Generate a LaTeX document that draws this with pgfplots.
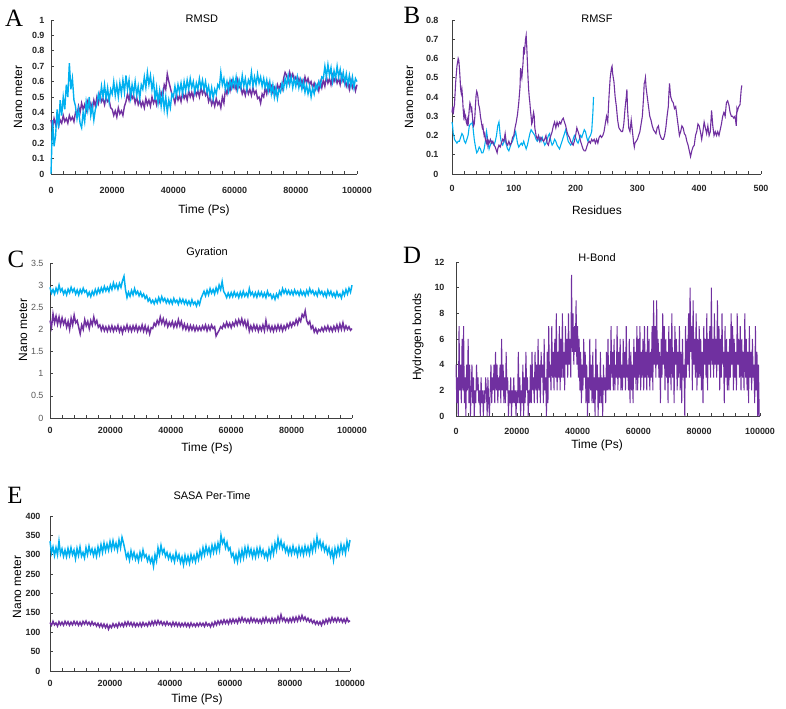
\documentclass[border=0pt]{standalone}
\usepackage{pgfplots}
\pgfplotsset{compat=1.18}
\usepackage{fontspec}
\setmainfont{Liberation Sans}
\newfontfamily\letterfont{Liberation Serif}
\definecolor{cpur}{HTML}{7030A0}
\definecolor{cblu}{HTML}{00B0F0}
\definecolor{axgray}{HTML}{404040}
\pgfplotsset{
 panel/.style={scale only axis, axis lines=left, axis line style={-, axgray, line width=0.8bp},
  enlargelimits=false, tick align=inside, major tick length=3bp, minor tick length=3bp,
  every tick/.style={axgray, line width=0.6bp},
  tick label style={font=\fontsize{9}{10}\selectfont\bfseries, text=black!85},
  /pgf/number format/assume math mode=true, /pgf/number format/1000 sep={}, /pgf/number format/fixed,
  scaled ticks=false,
  title style={font=\fontsize{11}{12}\selectfont, anchor=center},
  xlabel style={font=\fontsize{12}{13}\selectfont, anchor=center},
  ylabel style={font=\fontsize{12}{13}\selectfont, anchor=center},
  clip=false},
 timeax/.style={xmin=0, xmax=100000, xtick={0,20000,40000,60000,80000,100000}, minor x tick num=4},
}
\begin{document}
\begin{tikzpicture}
\useasboundingbox (0,0) rectangle (786bp,709bp);
% ---------------- A RMSD ----------------
\begin{axis}[panel, timeax, at={(51bp,535bp)}, anchor=south west, width=306bp, height=154bp,
 ymin=0, ymax=1, ytick={0,0.1,0.2,0.3,0.4,0.5,0.6,0.7,0.8,0.9,1},
 xticklabel style={yshift=-10bp}, yticklabel style={xshift=-3bp},
 title={RMSD}, title style={at={(axis description cs:0.493,0.968)}},
 xlabel={Time (Ps)}, xlabel style={at={(axis description cs:0.5,-0.234)}},
 ylabel={Nano meter}, ylabel style={at={(axis description cs:-0.108,0.5)}}]
\addplot[cpur, line width=1.4bp] table[row sep=\\, header=false, x expr=\coordindex*500, y index=0] {
0.35\\0.30\\0.36\\0.32\\0.37\\0.31\\0.35\\0.33\\0.38\\0.34\\
0.36\\0.33\\0.38\\0.35\\0.37\\0.34\\0.40\\0.38\\0.44\\0.40\\
0.46\\0.42\\0.45\\0.41\\0.47\\0.43\\0.46\\0.42\\0.48\\0.44\\
0.50\\0.46\\0.52\\0.47\\0.49\\0.45\\0.50\\0.47\\0.48\\0.43\\
0.42\\0.38\\0.41\\0.37\\0.43\\0.39\\0.41\\0.38\\0.44\\0.47\\
0.52\\0.48\\0.54\\0.49\\0.51\\0.46\\0.50\\0.45\\0.48\\0.44\\
0.47\\0.43\\0.49\\0.45\\0.48\\0.44\\0.50\\0.46\\0.49\\0.45\\
0.51\\0.47\\0.53\\0.50\\0.58\\0.55\\0.65\\0.60\\0.56\\0.52\\
0.50\\0.46\\0.52\\0.48\\0.51\\0.47\\0.53\\0.49\\0.52\\0.48\\
0.54\\0.50\\0.53\\0.49\\0.55\\0.51\\0.54\\0.50\\0.56\\0.52\\
0.55\\0.51\\0.53\\0.47\\0.50\\0.45\\0.48\\0.44\\0.49\\0.45\\
0.47\\0.43\\0.50\\0.46\\0.55\\0.52\\0.58\\0.54\\0.60\\0.56\\
0.59\\0.55\\0.61\\0.56\\0.57\\0.52\\0.55\\0.51\\0.56\\0.52\\
0.55\\0.51\\0.56\\0.52\\0.54\\0.49\\0.50\\0.46\\0.52\\0.50\\
0.56\\0.52\\0.58\\0.54\\0.57\\0.53\\0.56\\0.52\\0.58\\0.55\\
0.58\\0.55\\0.62\\0.66\\0.64\\0.60\\0.66\\0.62\\0.65\\0.61\\
0.63\\0.59\\0.62\\0.58\\0.61\\0.57\\0.63\\0.59\\0.62\\0.58\\
0.60\\0.56\\0.59\\0.55\\0.58\\0.54\\0.60\\0.56\\0.61\\0.57\\
0.63\\0.59\\0.62\\0.58\\0.64\\0.60\\0.63\\0.59\\0.62\\0.58\\
0.64\\0.60\\0.62\\0.57\\0.60\\0.55\\0.61\\0.56\\0.59\\0.54\\
0.58\\};
\addplot[cblu, line width=1.4bp] table[row sep=\\, header=false, x expr=\coordindex*500, y index=0] {
0.00\\0.35\\0.18\\0.25\\0.42\\0.30\\0.48\\0.38\\0.50\\0.42\\
0.58\\0.50\\0.72\\0.55\\0.62\\0.48\\0.44\\0.36\\0.42\\0.33\\
0.30\\0.40\\0.34\\0.47\\0.41\\0.50\\0.38\\0.44\\0.35\\0.42\\
0.45\\0.52\\0.48\\0.57\\0.50\\0.58\\0.49\\0.56\\0.47\\0.55\\
0.52\\0.60\\0.51\\0.58\\0.50\\0.59\\0.52\\0.61\\0.53\\0.64\\
0.55\\0.61\\0.50\\0.58\\0.52\\0.60\\0.51\\0.57\\0.49\\0.58\\
0.55\\0.63\\0.56\\0.66\\0.58\\0.64\\0.55\\0.61\\0.48\\0.56\\
0.46\\0.54\\0.44\\0.52\\0.42\\0.50\\0.40\\0.48\\0.43\\0.52\\
0.50\\0.57\\0.51\\0.58\\0.53\\0.59\\0.52\\0.60\\0.54\\0.61\\
0.55\\0.62\\0.56\\0.60\\0.53\\0.59\\0.55\\0.62\\0.56\\0.61\\
0.55\\0.60\\0.53\\0.57\\0.50\\0.56\\0.49\\0.55\\0.52\\0.58\\
0.56\\0.66\\0.58\\0.62\\0.55\\0.60\\0.54\\0.61\\0.56\\0.62\\
0.57\\0.63\\0.55\\0.61\\0.56\\0.64\\0.57\\0.62\\0.55\\0.61\\
0.58\\0.66\\0.57\\0.63\\0.58\\0.65\\0.59\\0.63\\0.57\\0.62\\
0.56\\0.61\\0.54\\0.60\\0.52\\0.58\\0.50\\0.56\\0.49\\0.55\\
0.53\\0.59\\0.55\\0.62\\0.57\\0.64\\0.58\\0.63\\0.56\\0.62\\
0.57\\0.63\\0.56\\0.61\\0.55\\0.60\\0.53\\0.58\\0.52\\0.57\\
0.50\\0.56\\0.52\\0.58\\0.55\\0.60\\0.57\\0.63\\0.62\\0.70\\
0.63\\0.71\\0.64\\0.69\\0.60\\0.67\\0.62\\0.70\\0.63\\0.68\\
0.61\\0.66\\0.59\\0.65\\0.58\\0.64\\0.57\\0.63\\0.56\\0.62\\
0.60\\};
\end{axis}
% ---------------- B RMSF ----------------
\begin{axis}[panel, at={(452bp,535bp)}, anchor=south west, width=309bp, height=154bp,
 xmin=0, xmax=500, xtick={0,100,200,300,400,500}, minor x tick num=4,
 ymin=0, ymax=0.8, ytick={0,0.1,0.2,0.3,0.4,0.5,0.6,0.7,0.8},
 xticklabel style={yshift=-8bp}, yticklabel style={xshift=-10bp},
 title={RMSF}, title style={at={(axis description cs:0.469,0.968)}},
 xlabel={Residues}, xlabel style={at={(axis description cs:0.469,-0.234)}},
 ylabel={Nano meter}, ylabel style={at={(axis description cs:-0.139,0.5)}}]
\addplot[cblu, line width=1.1bp] coordinates {
(0,0.27)(1,0.25)(2,0.21)(3,0.20)(4,0.18)(6,0.17)(8,0.16)(10,0.17)(12,0.17)(14,0.19)(16,0.21)(18,0.20)(20,0.17)(22,0.16)(24,0.18)(26,0.20)(28,0.25)(30,0.26)(32,0.26)(33,0.27)(34,0.24)(36,0.18)(38,0.14)(40,0.11)(42,0.12)(44,0.14)(46,0.13)(48,0.11)(50,0.11)(52,0.13)(54,0.17)(56,0.22)(58,0.17)(60,0.13)(62,0.15)(64,0.17)(66,0.16)(68,0.15)(70,0.17)(72,0.20)(74,0.25)(76,0.27)(78,0.20)(80,0.16)(82,0.15)(84,0.17)(86,0.18)(88,0.15)(90,0.13)(92,0.12)(94,0.14)(96,0.16)(98,0.17)(100,0.19)(102,0.21)(103,0.22)(104,0.20)(106,0.16)(108,0.14)(110,0.15)(112,0.16)(114,0.15)(116,0.17)(118,0.15)(120,0.13)(122,0.15)(124,0.18)(126,0.21)(128,0.23)(130,0.22)(132,0.21)(134,0.20)(136,0.18)(138,0.17)(140,0.18)(142,0.19)(144,0.17)(146,0.19)(148,0.17)(150,0.15)(152,0.16)(154,0.18)(156,0.20)(158,0.21)(160,0.17)(162,0.15)(164,0.16)(166,0.18)(168,0.17)(170,0.15)(172,0.14)(174,0.13)(176,0.15)(178,0.17)(180,0.19)(182,0.21)(184,0.23)(186,0.20)(188,0.17)(190,0.16)(192,0.15)(194,0.16)(196,0.18)(198,0.20)(200,0.19)(202,0.17)(204,0.16)(206,0.18)(208,0.20)(210,0.19)(212,0.21)(214,0.23)(216,0.22)(218,0.19)(220,0.17)(222,0.19)(224,0.20)(226,0.22)(228,0.32)(229,0.40)};
\addplot[cpur, line width=1.1bp] coordinates {
(0,0.32)(1,0.35)(2,0.31)(3,0.34)(4,0.36)(5,0.42)(6,0.48)(7,0.52)(8,0.56)(9,0.58)(10,0.60)(11,0.59)(12,0.55)(13,0.50)(14,0.44)(15,0.42)(16,0.44)(17,0.40)(18,0.34)(19,0.30)(20,0.32)(21,0.29)(22,0.30)(23,0.27)(24,0.26)(25,0.28)(26,0.25)(27,0.30)(28,0.34)(29,0.37)(30,0.36)(31,0.33)(32,0.34)(33,0.30)(34,0.27)(35,0.25)(36,0.26)(37,0.30)(38,0.36)(39,0.41)(40,0.43)(41,0.42)(42,0.40)(43,0.36)(44,0.35)(45,0.33)(46,0.30)(47,0.28)(48,0.26)(49,0.24)(50,0.25)(51,0.22)(52,0.20)(53,0.21)(54,0.18)(55,0.17)(56,0.16)(57,0.18)(58,0.15)(59,0.17)(60,0.16)(62,0.18)(64,0.16)(66,0.17)(68,0.15)(70,0.14)(72,0.12)(73,0.11)(74,0.13)(76,0.15)(78,0.14)(80,0.16)(82,0.18)(84,0.17)(86,0.21)(88,0.16)(90,0.15)(92,0.17)(94,0.15)(96,0.16)(98,0.19)(100,0.20)(102,0.24)(104,0.27)(106,0.31)(108,0.37)(110,0.45)(111,0.55)(112,0.52)(113,0.50)(114,0.54)(115,0.58)(116,0.66)(117,0.62)(118,0.66)(119,0.70)(120,0.72)(121,0.66)(122,0.58)(123,0.50)(124,0.44)(125,0.40)(126,0.37)(127,0.33)(128,0.30)(129,0.26)(130,0.27)(131,0.30)(132,0.32)(133,0.30)(134,0.24)(135,0.22)(136,0.20)(138,0.18)(140,0.20)(142,0.17)(144,0.19)(146,0.18)(148,0.17)(150,0.18)(152,0.20)(154,0.16)(156,0.15)(158,0.18)(160,0.20)(162,0.22)(164,0.25)(166,0.27)(168,0.24)(170,0.27)(172,0.25)(174,0.27)(176,0.26)(178,0.28)(180,0.29)(182,0.27)(184,0.25)(186,0.22)(188,0.20)(190,0.19)(192,0.17)(194,0.16)(196,0.15)(198,0.17)(200,0.20)(202,0.24)(204,0.22)(206,0.20)(208,0.17)(210,0.15)(212,0.13)(214,0.12)(216,0.12)(218,0.14)(220,0.16)(222,0.17)(224,0.16)(226,0.18)(228,0.17)(230,0.18)(232,0.16)(234,0.18)(236,0.16)(238,0.19)(240,0.20)(242,0.19)(244,0.20)(246,0.22)(248,0.26)(250,0.30)(252,0.27)(254,0.40)(256,0.50)(258,0.55)(259,0.56)(260,0.52)(262,0.48)(264,0.40)(266,0.35)(268,0.28)(270,0.24)(272,0.23)(274,0.22)(276,0.22)(278,0.26)(280,0.34)(282,0.40)(283,0.44)(284,0.34)(286,0.24)(288,0.22)(290,0.28)(292,0.22)(294,0.16)(295,0.14)(296,0.16)(298,0.17)(300,0.18)(302,0.20)(304,0.22)(306,0.26)(308,0.30)(310,0.40)(311,0.47)(312,0.48)(313,0.50)(314,0.45)(316,0.40)(318,0.35)(320,0.30)(322,0.28)(324,0.25)(326,0.23)(328,0.22)(330,0.21)(332,0.24)(334,0.25)(336,0.21)(338,0.19)(340,0.18)(342,0.18)(344,0.20)(346,0.24)(348,0.30)(350,0.35)(351,0.42)(352,0.47)(353,0.43)(354,0.40)(356,0.38)(358,0.37)(360,0.34)(362,0.35)(364,0.30)(366,0.25)(368,0.20)(370,0.22)(372,0.25)(374,0.24)(376,0.21)(378,0.20)(380,0.17)(382,0.15)(384,0.12)(386,0.09)(388,0.12)(390,0.14)(392,0.15)(394,0.20)(396,0.22)(398,0.26)(400,0.25)(402,0.22)(404,0.18)(406,0.22)(408,0.27)(410,0.24)(412,0.21)(414,0.25)(416,0.20)(418,0.22)(420,0.33)(422,0.25)(424,0.20)(426,0.22)(428,0.20)(430,0.22)(432,0.20)(434,0.23)(436,0.26)(438,0.30)(440,0.32)(442,0.30)(444,0.37)(446,0.38)(448,0.36)(450,0.32)(452,0.30)(454,0.30)(456,0.29)(458,0.30)(460,0.25)(461,0.34)(462,0.33)(464,0.35)(466,0.36)(468,0.44)(469,0.46)};
\end{axis}
% ---------------- C Gyration ----------------
\begin{axis}[panel, timeax, at={(50bp,291bp)}, anchor=south west, width=302bp, height=155bp,
 ymin=0, ymax=3.5, ytick={0,0.5,1,1.5,2,2.5,3,3.5},
 xticklabel style={yshift=-6bp}, yticklabel style={xshift=-3bp, font=\fontsize{9}{10}\selectfont\mdseries, text=black!65},
 title={Gyration}, title style={at={(axis description cs:0.52,1.026)}},
 xlabel={Time (Ps)}, xlabel style={at={(axis description cs:0.52,-0.194)}},
 ylabel={Nano meter}, ylabel style={at={(axis description cs:-0.089,0.568)}}]
\addplot[cblu, line width=1.5bp] table[row sep=\\, header=false, x expr=\coordindex*500, y index=0] {
2.95\\2.82\\2.90\\2.80\\2.93\\2.84\\3.00\\2.86\\2.92\\2.80\\
2.88\\2.78\\2.91\\2.83\\2.95\\2.85\\2.92\\2.80\\2.89\\2.78\\
2.90\\2.82\\2.93\\2.84\\2.88\\2.76\\2.84\\2.74\\2.86\\2.78\\
2.90\\2.80\\2.92\\2.83\\2.94\\2.85\\2.97\\2.87\\2.95\\2.86\\
3.00\\2.90\\3.05\\2.93\\3.02\\2.91\\3.04\\2.95\\3.10\\3.20\\
2.90\\2.72\\2.84\\2.75\\2.88\\2.78\\2.92\\2.80\\2.86\\2.76\\
2.84\\2.74\\2.80\\2.70\\2.76\\2.64\\2.70\\2.60\\2.66\\2.58\\
2.68\\2.60\\2.72\\2.62\\2.74\\2.64\\2.70\\2.60\\2.68\\2.59\\
2.67\\2.58\\2.70\\2.61\\2.66\\2.57\\2.69\\2.60\\2.68\\2.58\\
2.66\\2.56\\2.64\\2.55\\2.67\\2.57\\2.62\\2.53\\2.64\\2.56\\
2.70\\2.78\\2.86\\2.76\\2.88\\2.78\\2.92\\2.82\\2.90\\2.80\\
2.94\\2.84\\3.00\\2.90\\3.08\\2.86\\2.80\\2.72\\2.82\\2.73\\
2.83\\2.74\\2.85\\2.75\\2.82\\2.72\\2.84\\2.74\\2.86\\2.75\\
2.82\\2.74\\2.92\\2.78\\2.84\\2.74\\2.83\\2.73\\2.85\\2.76\\
2.84\\2.74\\2.82\\2.72\\2.86\\2.76\\2.80\\2.70\\2.78\\2.68\\
2.80\\2.72\\2.86\\2.78\\2.92\\2.82\\2.90\\2.80\\2.88\\2.79\\
2.87\\2.78\\2.89\\2.80\\2.86\\2.77\\2.88\\2.78\\2.85\\2.76\\
2.88\\2.79\\2.92\\2.82\\2.88\\2.78\\2.85\\2.76\\2.90\\2.80\\
2.86\\2.76\\2.84\\2.74\\2.88\\2.78\\2.86\\2.75\\2.82\\2.73\\
2.85\\2.75\\2.80\\2.71\\2.86\\2.77\\2.90\\2.80\\2.93\\2.84\\
3.00\\};
\addplot[cpur, line width=1.5bp] table[row sep=\\, header=false, x expr=\coordindex*500, y index=0] {
2.20\\2.05\\2.35\\2.15\\2.30\\2.12\\2.28\\2.10\\2.26\\2.12\\
2.22\\2.05\\2.18\\2.00\\2.25\\2.10\\2.32\\2.15\\2.20\\2.05\\
1.90\\2.10\\2.00\\2.22\\2.08\\2.18\\2.02\\2.20\\2.10\\2.28\\
2.12\\2.20\\2.05\\2.10\\1.98\\2.08\\1.97\\2.06\\1.96\\2.07\\
1.97\\2.08\\1.96\\2.06\\1.98\\2.09\\1.95\\2.05\\1.92\\2.06\\
1.98\\2.10\\1.97\\2.07\\1.96\\2.08\\1.98\\2.09\\1.96\\2.06\\
1.98\\2.10\\1.96\\2.08\\1.94\\2.05\\1.90\\2.04\\2.02\\2.14\\
2.08\\2.20\\2.12\\2.28\\2.14\\2.24\\2.10\\2.20\\2.06\\2.16\\
2.08\\2.18\\2.05\\2.16\\2.06\\2.22\\2.08\\2.18\\2.02\\2.12\\
2.00\\2.10\\1.98\\2.09\\1.99\\2.08\\1.97\\2.07\\1.98\\2.06\\
1.98\\2.08\\2.00\\2.10\\1.97\\2.08\\1.99\\2.10\\2.02\\2.06\\
1.85\\1.92\\1.98\\2.06\\2.02\\2.12\\2.05\\2.16\\2.06\\2.14\\
2.04\\2.15\\2.08\\2.20\\2.10\\2.22\\2.12\\2.24\\2.10\\2.20\\
2.05\\2.18\\1.96\\2.08\\1.98\\2.10\\1.99\\2.09\\1.96\\2.07\\
1.98\\2.10\\1.97\\2.20\\2.00\\2.09\\1.97\\2.07\\1.96\\2.08\\
1.98\\2.10\\1.99\\2.09\\1.97\\2.08\\2.00\\2.12\\2.04\\2.15\\
2.06\\2.16\\2.10\\2.22\\2.12\\2.25\\2.18\\2.34\\2.28\\2.42\\
2.20\\2.12\\2.18\\2.02\\2.08\\1.94\\2.02\\1.92\\2.00\\1.96\\
2.04\\1.96\\2.06\\1.98\\2.08\\1.97\\2.05\\1.96\\2.07\\1.98\\
2.10\\1.98\\2.12\\2.00\\2.15\\1.99\\2.08\\2.00\\2.06\\1.98\\
2.02\\};
\end{axis}
% ---------------- D H-Bond ----------------
\begin{axis}[panel, timeax, at={(456bp,293bp)}, anchor=south west, width=304bp, height=154bp,
 ymin=0, ymax=12, ytick={0,2,4,6,8,10,12},
 xticklabel style={yshift=-9bp}, yticklabel style={xshift=-8bp},
 title={H-Bond}, title style={at={(axis description cs:0.464,0.987)}},
 xlabel={Time (Ps)}, xlabel style={at={(axis description cs:0.464,-0.188)}},
 ylabel={Hydrogen bonds}, ylabel style={at={(axis description cs:-0.125,0.513)}}]
\addplot[cpur, line width=1bp] table[row sep=\\, header=false, x expr=\coordindex*250, y index=0] {
4\\1\\3\\0\\7\\2\\4\\1\\6\\2\\7\\1\\3\\0\\4\\2\\6\\1\\4\\0\\
2\\4\\1\\3\\0\\2\\1\\4\\2\\3\\1\\2\\0\\3\\1\\2\\0\\2\\1\\3\\
2\\0\\3\\1\\0\\2\\4\\1\\3\\2\\4\\1\\5\\2\\4\\1\\3\\2\\4\\1\\
6\\2\\4\\1\\3\\1\\5\\2\\3\\0\\2\\1\\3\\0\\2\\1\\3\\1\\2\\0\\
2\\1\\5\\1\\3\\0\\2\\1\\4\\0\\3\\1\\5\\2\\3\\0\\2\\1\\4\\1\\
5\\2\\3\\1\\5\\2\\4\\1\\6\\2\\4\\1\\5\\3\\4\\1\\6\\2\\3\\0\\
5\\1\\7\\3\\4\\2\\7\\3\\5\\2\\6\\3\\8\\2\\5\\3\\7\\2\\6\\3\\
8\\3\\5\\2\\7\\4\\6\\3\\8\\4\\6\\3\\11\\5\\8\\4\\7\\5\\9\\4\\
7\\3\\6\\2\\5\\1\\4\\2\\6\\3\\5\\1\\4\\0\\3\\1\\6\\2\\4\\1\\
5\\1\\3\\0\\6\\2\\4\\0\\3\\1\\5\\1\\3\\0\\4\\2\\3\\1\\5\\2\\
6\\2\\4\\2\\7\\3\\5\\2\\6\\2\\4\\3\\7\\2\\5\\3\\6\\2\\4\\2\\
6\\3\\5\\2\\7\\3\\4\\2\\6\\1\\5\\2\\4\\1\\6\\3\\5\\2\\7\\2\\
6\\3\\7\\2\\5\\3\\6\\2\\7\\3\\5\\2\\7\\3\\6\\2\\5\\3\\7\\2\\
9\\4\\7\\3\\9\\4\\6\\3\\5\\1\\6\\3\\8\\4\\7\\2\\6\\3\\5\\1\\
7\\3\\6\\2\\8\\3\\5\\1\\7\\4\\6\\2\\5\\3\\7\\2\\5\\1\\6\\3\\
4\\0\\7\\3\\6\\4\\8\\3\\10\\5\\7\\2\\9\\4\\6\\3\\8\\2\\6\\3\\
7\\3\\6\\2\\5\\1\\7\\4\\6\\3\\8\\2\\6\\4\\7\\3\\10\\4\\6\\3\\
8\\4\\6\\3\\9\\4\\7\\2\\6\\3\\8\\4\\5\\1\\7\\3\\6\\2\\5\\2\\
6\\3\\8\\4\\7\\2\\6\\3\\5\\2\\8\\4\\6\\3\\7\\2\\6\\3\\5\\2\\
8\\3\\6\\2\\5\\1\\7\\3\\5\\2\\6\\3\\4\\1\\7\\2\\5\\0\\4\\0\\
0\\};
\end{axis}
% ---------------- E SASA ----------------
\begin{axis}[panel, timeax, at={(50bp,38bp)}, anchor=south west, width=300bp, height=155bp,
 ymin=0, ymax=400, ytick={0,50,100,150,200,250,300,350,400},
 xticklabel style={yshift=-6bp}, yticklabel style={xshift=-6bp},
 title={SASA Per-Time}, title style={at={(axis description cs:0.54,1.09)}},
 xlabel={Time (Ps)}, xlabel style={at={(axis description cs:0.49,-0.181)}},
 ylabel={Nano meter}, ylabel style={at={(axis description cs:-0.11,0.542)}}]
\addplot[cblu, line width=1.5bp] table[row sep=\\, header=false, x expr=\coordindex*500, y index=0] {
335\\305\\320\\298\\318\\300\\335\\302\\315\\296\\
312\\295\\316\\298\\318\\300\\312\\290\\316\\298\\
320\\296\\306\\292\\318\\300\\322\\304\\315\\298\\
314\\296\\320\\302\\326\\306\\330\\310\\328\\312\\
334\\314\\336\\316\\330\\312\\338\\318\\345\\330\\
312\\292\\304\\286\\310\\292\\306\\288\\300\\284\\
306\\290\\312\\294\\300\\284\\296\\280\\292\\270\\
300\\284\\318\\300\\324\\304\\314\\296\\306\\290\\
302\\286\\298\\282\\306\\288\\300\\280\\294\\274\\
298\\280\\296\\278\\300\\284\\298\\282\\304\\288\\
310\\294\\318\\300\\322\\304\\318\\300\\324\\306\\
326\\308\\330\\312\\350\\330\\340\\318\\332\\312\\
318\\296\\304\\284\\300\\282\\308\\288\\312\\292\\
318\\298\\320\\300\\314\\294\\312\\294\\316\\298\\
318\\300\\312\\294\\306\\290\\314\\296\\322\\302\\
330\\312\\342\\320\\336\\316\\328\\308\\320\\302\\
318\\302\\322\\304\\316\\298\\320\\302\\318\\300\\
322\\304\\320\\302\\326\\308\\334\\314\\346\\322\\
336\\316\\330\\310\\322\\304\\318\\296\\312\\286\\
316\\298\\320\\302\\326\\306\\324\\304\\334\\316\\
338\\};
\addplot[cpur, line width=1.5bp] table[row sep=\\, header=false, x expr=\coordindex*500, y index=0] {
125\\118\\128\\119\\124\\116\\127\\119\\126\\118\\
128\\120\\127\\118\\126\\119\\128\\120\\127\\118\\
126\\118\\128\\121\\129\\120\\126\\118\\127\\119\\
124\\116\\123\\114\\122\\113\\121\\112\\120\\108\\
118\\112\\122\\114\\121\\113\\124\\116\\123\\115\\
126\\117\\127\\118\\125\\116\\124\\115\\123\\116\\
124\\115\\125\\117\\123\\116\\126\\118\\128\\119\\
129\\120\\130\\121\\128\\119\\126\\118\\127\\119\\
124\\116\\126\\117\\125\\116\\124\\115\\123\\116\\
124\\115\\123\\114\\124\\116\\122\\115\\123\\116\\
124\\117\\123\\115\\125\\117\\122\\114\\124\\116\\
127\\119\\129\\121\\130\\122\\132\\123\\131\\122\\
133\\124\\134\\125\\133\\124\\136\\127\\138\\128\\
135\\126\\134\\125\\137\\127\\135\\126\\134\\125\\
133\\124\\136\\126\\138\\127\\134\\125\\136\\126\\
135\\126\\140\\128\\145\\130\\137\\127\\135\\126\\
136\\127\\138\\128\\139\\129\\141\\131\\143\\132\\
139\\129\\136\\127\\133\\124\\130\\121\\128\\120\\
127\\118\\130\\122\\133\\124\\135\\126\\138\\128\\
136\\127\\137\\128\\135\\126\\134\\125\\136\\127\\
130\\};
\end{axis}
% panel letters
\node[font=\fontsize{25}{25}\selectfont\letterfont] at (14bp,691bp) {A};
\node[font=\fontsize{25}{25}\selectfont\letterfont] at (412bp,694bp) {B};
\node[font=\fontsize{25}{25}\selectfont\letterfont] at (16bp,450bp) {C};
\node[font=\fontsize{25}{25}\selectfont\letterfont] at (412bp,454bp) {D};
\node[font=\fontsize{25}{25}\selectfont\letterfont] at (15bp,214bp) {E};
\end{tikzpicture}
\end{document}
